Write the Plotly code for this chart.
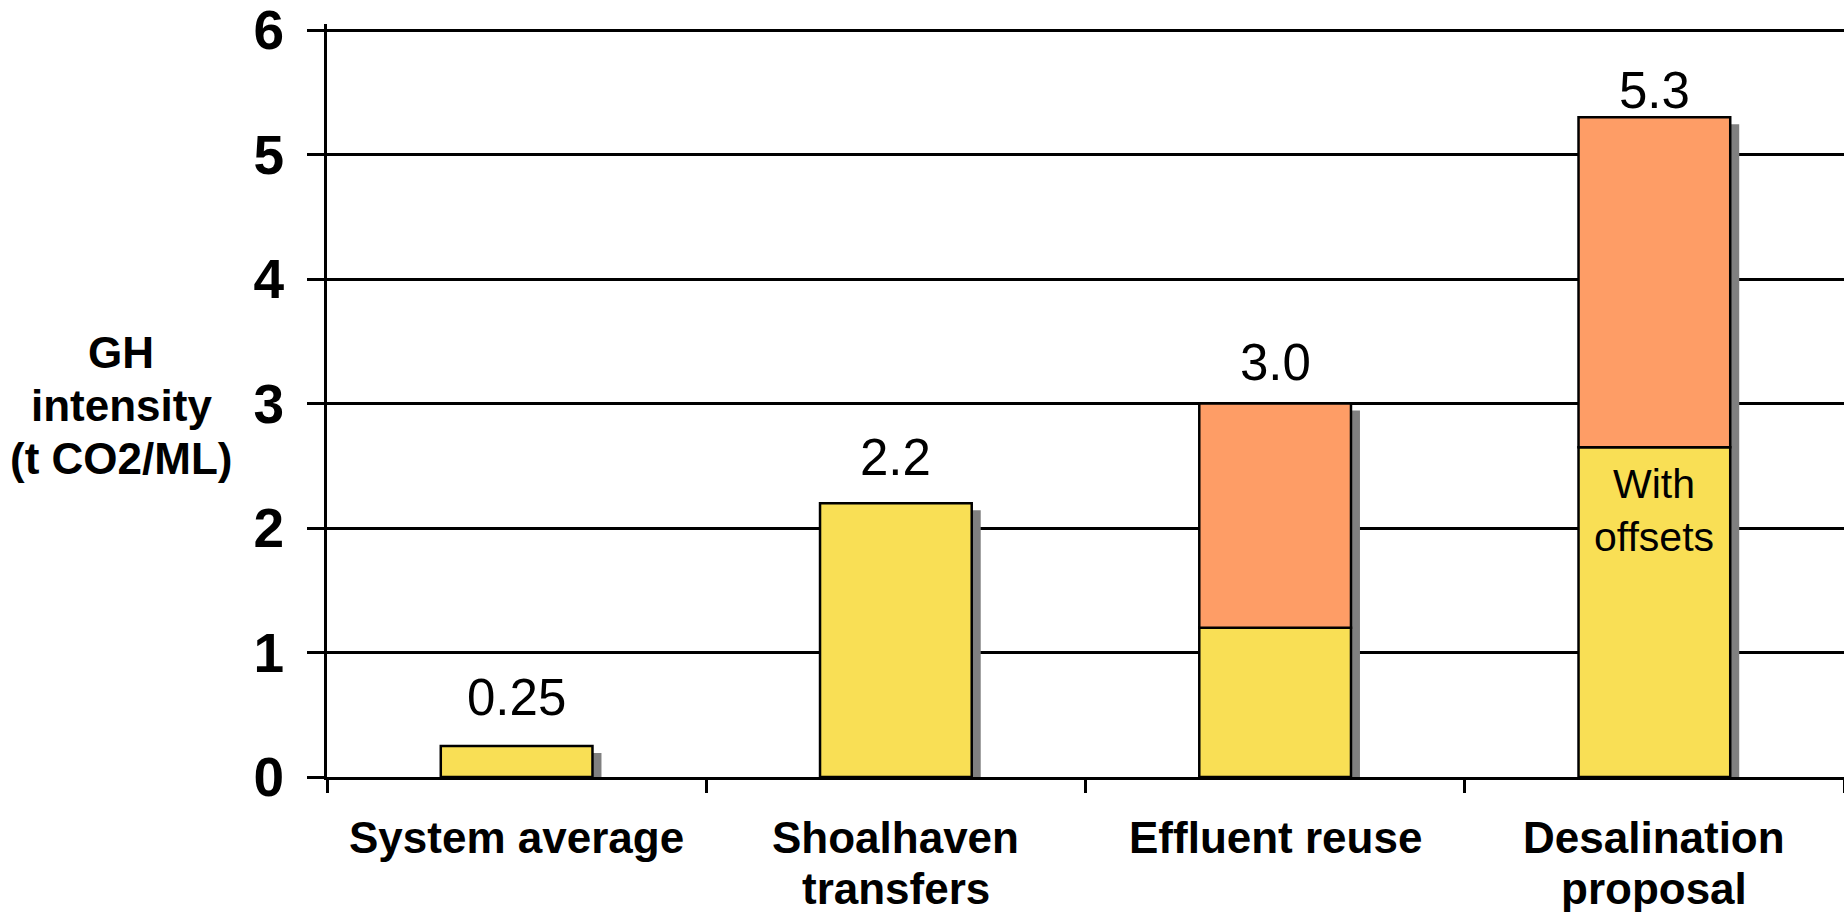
import plotly.graph_objects as go

categories = ["System average", "Shoalhaven<br>transfers", "Effluent reuse", "Desalination<br>proposal"]
base_values = [0.25, 2.2, 1.2, 2.65]      # yellow segment
extra_values = [0.0, 0.0, 1.8, 2.65]      # orange segment
total_labels = ["0.25", "2.2", "3.0", "5.3"]
y_ticks = [0, 1, 2, 3, 4, 5, 6]
y_title_lines = ["GH", "intensity", "(t CO2/ML)"]

totals = [b + e for b, e in zip(base_values, extra_values)]

YELLOW = "#F9DF55"
ORANGE = "#FE9D66"
SHADOW = "#808080"
FONT = "Liberation Sans, Arial, sans-serif"

W, H = 1844, 912
Y_MAX = 6.05
ML, MR, MT, MB = 327, 0, 24, 135
plot_w = W - ML - MR
plot_h = H - MT - MB
cat_px = plot_w / len(categories)
unit_px = plot_h / Y_MAX
bar_w = 0.4
dx = 9 / cat_px
dy = 7 / unit_px
label_gap = [48, 46, 41, 27]   # px between bar top and value-label centre

fig = go.Figure()

# drop shadows
fig.add_trace(go.Bar(
    x=categories, y=totals, base=[-dy] * len(totals),
    width=bar_w, offset=-bar_w / 2 + dx,
    marker=dict(color=SHADOW, line=dict(width=0)),
    hoverinfo="skip", showlegend=False,
))
# yellow segments
fig.add_trace(go.Bar(
    x=categories, y=base_values, base=[0] * len(base_values),
    width=bar_w, offset=-bar_w / 2,
    marker=dict(color=YELLOW, line=dict(color="black", width=2.5)),
    showlegend=False,
))
# orange segments
ox = [c for c, e in zip(categories, extra_values) if e > 0]
oy = [e for e in extra_values if e > 0]
ob = [b for b, e in zip(base_values, extra_values) if e > 0]
fig.add_trace(go.Bar(
    x=ox, y=oy, base=ob,
    width=bar_w, offset=-bar_w / 2,
    marker=dict(color=ORANGE, line=dict(color="black", width=2.5)),
    showlegend=False,
))

annotations = []
for c, t, lab, g in zip(categories, totals, total_labels, label_gap):
    annotations.append(dict(
        x=c, y=t, xref="x", yref="y", text=lab, showarrow=False,
        yanchor="middle", yshift=g,
        font=dict(family=FONT, size=51, color="black"),
    ))

annotations.append(dict(
    x=categories[3], y=base_values[3], xref="x", yref="y",
    text="With<br>offsets", showarrow=False, yanchor="top", yshift=-12,
    font=dict(family=FONT, size=41, color="black"),
))

# y title (horizontal, three lines)
for i, line in enumerate(y_title_lines):
    annotations.append(dict(
        x=(121 - ML) / plot_w, xref="paper", y=3, yref="y",
        text="<b>%s</b>" % line, showarrow=False,
        xanchor="center", yanchor="middle", yshift=53 * (1 - i) - 2,
        font=dict(family=FONT, size=44, color="black"),
    ))

# category labels
for c in categories:
    for j, line in enumerate(c.split("<br>")):
        annotations.append(dict(
            x=c, xref="x", y=0, yref="paper",
            text="<b>%s</b>" % line, showarrow=False,
            xanchor="center", yanchor="middle", yshift=-60 - 51 * j,
            font=dict(family=FONT, size=44, color="black"),
        ))

fig.update_layout(
    width=W, height=H,
    margin=dict(l=ML, r=MR, t=MT, b=MB, pad=0, autoexpand=False),
    paper_bgcolor="white", plot_bgcolor="white",
    barmode="overlay", bargap=0.6,
    annotations=annotations,
    font=dict(family=FONT, color="black"),
    shapes=[dict(type="line", xref="paper", x0=0, x1=1, yref="y",
                 y0=max(y_ticks), y1=max(y_ticks), layer="below",
                 line=dict(color="black", width=2.5))],
)
fig.update_xaxes(
    type="category", automargin=False,
    showline=True, linecolor="black", linewidth=3,
    ticks="outside", tickson="boundaries", ticklen=13, tickwidth=2.5, tickcolor="black",
    showgrid=False, showticklabels=False,
)
fig.update_yaxes(
    range=[0, Y_MAX], tickvals=y_ticks, automargin=False,
    showline=True, linecolor="black", linewidth=3,
    ticks="outside", ticklen=17, tickwidth=2.5, tickcolor="black",
    showgrid=True, gridcolor="black", gridwidth=2.5,
    zeroline=False, ticklabeloverflow="allow",
    tickfont=dict(family=FONT, size=55, color="black", weight="bold"),
    ticklabelstandoff=12,
)

fig.write_html("out.html", config={"displayModeBar": False},
               post_script="document.body.style.margin='0';document.body.style.overflow='hidden';")
